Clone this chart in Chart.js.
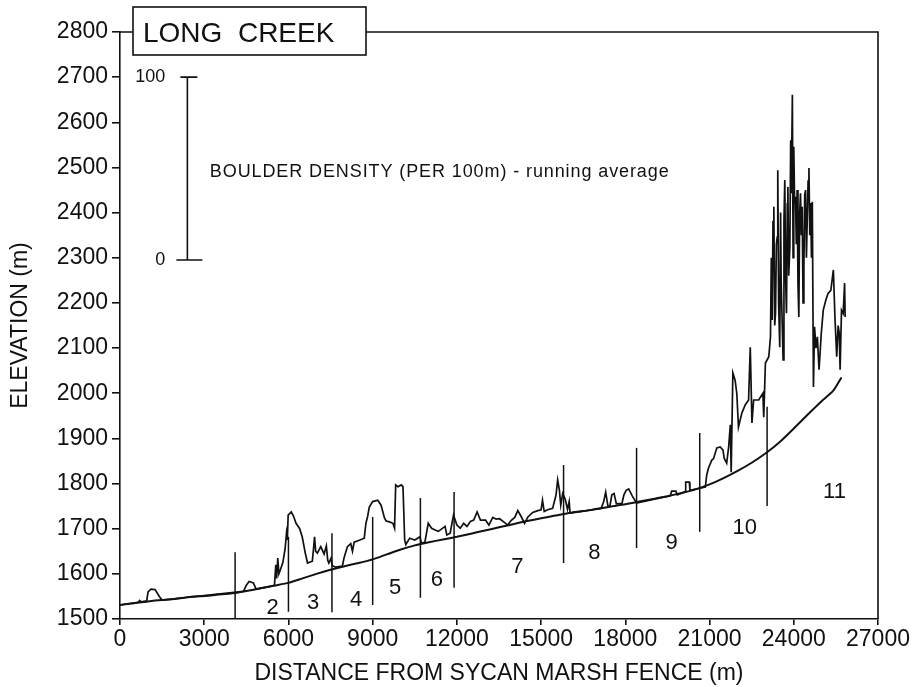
<!DOCTYPE html>
<html>
<head>
<meta charset="utf-8">
<script src="https://cdn.jsdelivr.net/npm/chart.js@4/dist/chart.umd.min.js"></script>
<style>
  html, body { margin: 0; padding: 0; background: #fff; }
  #wrap { width: 917px; height: 687px; position: relative; }
</style>
</head>
<body>
<div id="wrap"><canvas id="profile"></canvas></div>
<script>
// channel elevation profile (m) vs distance (m)
const elevX = [0, 500, 1000, 1500, 2000, 2500, 3000, 3500, 4000, 4500, 5000, 5500, 6000, 6500, 7000, 7500, 8000, 8500, 9000, 9500, 10000, 10500, 11000, 11500, 12000, 12500, 13000, 13500, 14000, 14500, 15000, 15500, 16000, 16500, 17000, 17500, 18000, 18500, 19000, 19500, 20000, 20500, 21000, 21500, 22000, 22500, 23000, 23500, 24000, 24500, 25000, 25400, 25700];
const elevY = [1531, 1535, 1539, 1542, 1545, 1549, 1551, 1554, 1557, 1562, 1568, 1574, 1580, 1590, 1600, 1609, 1617, 1624, 1632, 1643, 1654, 1663, 1670, 1676, 1682, 1689, 1696, 1703, 1710, 1717, 1723, 1729, 1735, 1739, 1744, 1749, 1754, 1760, 1766, 1772, 1779, 1787, 1798, 1812, 1828, 1846, 1867, 1892, 1922, 1953, 1983, 2005, 2035];

// boulder density running average, plotted on top of the profile (in elevation units)
const densX = [0, 650, 700, 760, 950, 1000, 1100, 1250, 1400, 1500, 4400, 4500, 4600, 4750, 4850, 5500,
  5550, 5580, 5620, 5660, 5720, 5800, 5880, 5930, 5960, 5990, 6100, 6180, 6270, 6400, 6490, 6600, 6680, 6850, 6900, 6930, 6970, 7030, 7150, 7270, 7350, 7400, 7440, 7520, 7560, 7680, 7920, 7980,
  8100, 8220, 8280, 8340, 8500, 8700, 8760, 8820, 8880, 9000, 9180, 9300, 9420, 9480, 9600, 9720, 9780, 9820, 9900, 10020, 10080, 10140, 10180, 10320, 10500, 10680, 10740, 10860, 10980, 11100, 11220, 11340, 11580, 11640, 11760, 11880,
  12000, 12120, 12240, 12360, 12480, 12600, 12720, 12840, 13020, 13140, 13280, 13400, 13520, 13690, 13810, 13930, 14060, 14170, 14290, 14410, 14530, 14700, 14880, 15000, 15050, 15110, 15230, 15410, 15530, 15590, 15650, 15700, 15770, 15860, 15940, 16000, 16030, 16100,
  17140, 17230, 17300, 17380, 17450, 17520, 17600, 17680, 17880, 17950, 18030, 18120, 18250, 18400, 19600, 19650, 19800, 19850, 20140, 20150, 20280, 20300, 20850,
  20900, 20960, 21080, 21140, 21260, 21380, 21480, 21520, 21610, 21680, 21740, 21770, 21830, 21910, 21970, 22030, 22150, 22270, 22390, 22450, 22510, 22570, 22750, 22900, 22930, 22990,
  23110, 23170, 23200, 23230, 23260, 23290, 23320, 23350, 23380, 23410, 23430, 23460, 23500, 23530, 23550, 23590, 23620, 23650, 23680, 23710, 23740, 23770, 23790, 23820, 23860, 23890, 23910, 23950, 23975, 24000, 24030, 24060, 24090, 24120, 24150, 24180, 24210, 24240, 24270, 24300, 24330, 24360, 24390, 24420, 24450, 24480, 24510, 24540, 24570, 24600, 24630, 24660, 24700,
  24740, 24790, 24840, 24900, 24980, 25050, 25140, 25220, 25320, 25410, 25470, 25530, 25580, 25620, 25650, 25700, 25760, 25810, 25830];
const densY = [1531, 1537, 1541, 1538, 1540, 1560, 1566, 1565, 1550, 1542, 1561, 1575, 1583, 1580, 1566, 1574,
  1620, 1590, 1635, 1600, 1610, 1625, 1655, 1690, 1675, 1730, 1737, 1728, 1712, 1700, 1682, 1646, 1624, 1628, 1660, 1682, 1650, 1646, 1660, 1644, 1662, 1630, 1624, 1635, 1618, 1615, 1617, 1635,
  1660, 1667, 1650, 1670, 1674, 1679, 1712, 1727, 1748, 1760, 1763, 1752, 1724, 1717, 1715, 1712, 1701, 1797, 1793, 1797, 1793, 1675, 1665, 1679, 1675, 1682, 1668, 1670, 1712, 1701, 1697, 1694, 1705, 1686, 1690, 1730,
  1708, 1701, 1712, 1705, 1716, 1719, 1737, 1719, 1719, 1708, 1725, 1721, 1722, 1714, 1708, 1718, 1725, 1740, 1727, 1712, 1726, 1736, 1740, 1742, 1763, 1738, 1742, 1745, 1774, 1808, 1786, 1752, 1778, 1765, 1743, 1760, 1735, 1735,
  1745, 1760, 1781, 1750, 1750, 1775, 1778, 1755, 1756, 1775, 1785, 1788, 1772, 1757, 1773, 1783, 1783, 1775, 1782, 1803, 1803, 1785, 1792,
  1819, 1834, 1852, 1855, 1879, 1881, 1874, 1856, 1845, 1881, 1930, 1825, 2045, 2029, 2000, 1925, 1956, 1974, 1985, 2102, 1934, 1985, 1985, 2000, 1947, 2067,
  2081, 2125, 2300, 2162, 2380, 2413, 2150, 2177, 2330, 2346, 2494, 2200, 2102, 2400, 2251, 2150, 2074, 2380, 2472, 2250, 2177, 2420, 2457, 2260, 2324, 2560, 2443, 2661, 2300, 2546, 2420, 2435, 2330, 2450, 2240, 2169, 2400, 2443, 2350, 2413, 2200, 2280, 2440, 2450, 2300, 2384, 2470, 2499, 2350, 2421, 2300, 2424, 2014,
  2147, 2100, 2125, 2052, 2133, 2184, 2206, 2221, 2228, 2273, 2162, 2081, 2150, 2133, 2052, 2184, 2177, 2244, 2169];

// reach boundaries and reach numbers
const reachX      = [4100, 6000, 7550, 9000, 10700, 11900, 15800, 18400, 20650, 23050];
const reachTop    = [1648, 1682, 1690, 1726, 1768, 1781, 1841, 1879, 1912, 1970];
const reachBottom = [1500, 1516, 1515, 1531, 1547, 1569, 1624, 1657, 1693, 1750];
const reachNames  = ['2', '3', '4', '5', '6', '7', '8', '9', '10', '11'];
const reachNameX  = [5440, 6880, 8410, 9800, 11290, 14150, 16900, 19650, 22250, 25450];
const reachNameY  = [1524, 1535, 1542, 1569, 1586, 1615, 1646, 1668, 1701, 1781];

// density scale bar (0 - 100 boulders per 100 m)
const barLabels = ['0', '100'];
const barX = 2400;
const barY = [2295, 2700];

const xTicks = [0, 3000, 6000, 9000, 12000, 15000, 18000, 21000, 24000, 27000];
const yTicks = [1500, 1600, 1700, 1800, 1900, 2000, 2100, 2200, 2300, 2400, 2500, 2600, 2700, 2800];

const FONT = '"Liberation Sans", Arial, Helvetica, sans-serif';
const INK = '#111';

const pts = (xs, ys) => xs.map((x, i) => ({ x, y: ys[i] }));

const reachSets = reachX.map((x, i) => ({
  data: [{ x, y: reachBottom[i] }, { x, y: reachTop[i] }],
  borderColor: INK, borderWidth: 1.5, pointRadius: 0, tension: 0,
}));

const decor = {
  id: 'decor',
  afterDatasetsDraw(chart) {
    const { ctx, chartArea: a, scales: { x, y } } = chart;
    ctx.save();
    ctx.strokeStyle = INK;
    ctx.fillStyle = INK;
    ctx.lineWidth = 1.6;

    // frame: top and right edges
    ctx.beginPath();
    ctx.moveTo(a.left, a.top);
    ctx.lineTo(a.right, a.top);
    ctx.lineTo(a.right, a.bottom);
    ctx.stroke();

    // reach numbers
    ctx.font = '22px ' + FONT;
    ctx.textAlign = 'center';
    ctx.textBaseline = 'middle';
    reachNames.forEach((n, i) => {
      ctx.fillText(n, x.getPixelForValue(reachNameX[i]), y.getPixelForValue(reachNameY[i]));
    });

    // density scale bar
    const bx = x.getPixelForValue(barX);
    const b0 = y.getPixelForValue(barY[0]);
    const b1 = y.getPixelForValue(barY[1]);
    ctx.beginPath();
    ctx.moveTo(bx, b0); ctx.lineTo(bx, b1);
    ctx.moveTo(bx - 11, b0); ctx.lineTo(bx + 15, b0);
    ctx.moveTo(bx - 7, b1); ctx.lineTo(bx + 10, b1);
    ctx.stroke();
    ctx.font = '18px ' + FONT;
    ctx.textAlign = 'right';
    ctx.fillText(barLabels[0], bx - 22, b0);
    ctx.fillText(barLabels[1], bx - 22, b1);
    ctx.textAlign = 'left';
    ctx.letterSpacing = '0.9px';
    ctx.fillText('BOULDER DENSITY (PER 100m) - running average', x.getPixelForValue(3200), y.getPixelForValue(2490));
    ctx.letterSpacing = '0px';

    // title box
    const bxL = a.left + 13, bxT = 7, bxW = 233, bxH = 48;
    ctx.fillStyle = '#fff';
    ctx.fillRect(bxL, bxT, bxW, bxH);
    ctx.strokeRect(bxL, bxT, bxW, bxH);
    ctx.fillStyle = INK;
    ctx.font = '28px ' + FONT;
    ctx.textBaseline = 'alphabetic';
    ctx.fillText('LONG  CREEK', bxL + 10, bxT + 35);
    ctx.restore();
  }
};

new Chart(document.getElementById('profile'), {
  type: 'line',
  data: {
    datasets: [
      { data: pts(elevX, elevY), borderColor: INK, borderWidth: 2, pointRadius: 0, tension: 0.2 },
      { data: pts(densX, densY), borderColor: INK, borderWidth: 1.7, pointRadius: 0, tension: 0 },
      ...reachSets,
    ],
  },
  options: {
    responsive: true,
    maintainAspectRatio: false,
    animation: false,
    layout: { padding: { top: 32, right: 39, left: 0, bottom: 0 } },
    plugins: { legend: { display: false }, tooltip: { enabled: false } },
    scales: {
      x: {
        type: 'linear', min: 0, max: 27000,
        afterBuildTicks: s => { s.ticks = xTicks.map(v => ({ value: v })); },
        afterFit: s => { s.height = 68; },
        grid: { display: true, drawOnChartArea: false, drawTicks: true, tickLength: 6, color: INK, lineWidth: 1.6 },
        border: { display: true, color: INK, width: 1.6 },
        ticks: { color: INK, font: { family: FONT, size: 23 }, padding: 1, maxRotation: 0, callback: v => String(v) },
        title: { display: true, text: 'DISTANCE FROM SYCAN MARSH FENCE (m)', color: INK, font: { family: FONT, size: 23 }, padding: { top: 0, bottom: 0 } },
      },
      y: {
        type: 'linear', min: 1500, max: 2800,
        afterBuildTicks: s => { s.ticks = yTicks.map(v => ({ value: v })); },
        afterFit: s => { s.width = 120; },
        grid: { display: true, drawOnChartArea: false, drawTicks: true, tickLength: 8, color: INK, lineWidth: 1.6 },
        border: { display: true, color: INK, width: 1.6 },
        ticks: { color: INK, font: { family: FONT, size: 23 }, padding: 4, callback: v => String(v) },
        title: { display: true, text: 'ELEVATION (m)', color: INK, font: { family: FONT, size: 23 }, padding: { top: 7, bottom: 0 } },
      },
    },
  },
  plugins: [decor],
});
</script>
</body>
</html>
